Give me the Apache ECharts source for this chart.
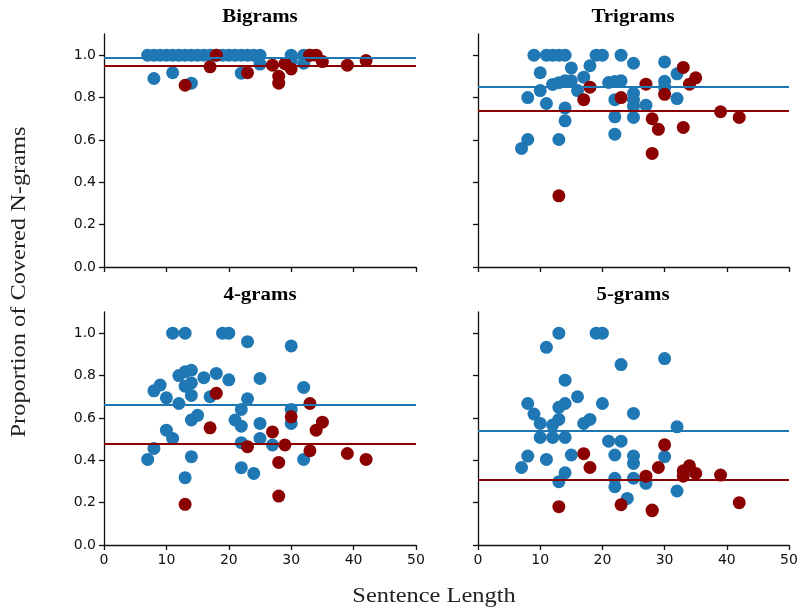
<!DOCTYPE html>
<html>
<head>
<meta charset="utf-8">
<script src="https://cdn.jsdelivr.net/npm/echarts@6/dist/echarts.min.js"></script>
<style>
  html, body { margin: 0; padding: 0; background: #fff; }
  #chart { width: 801px; height: 610px; }
</style>
</head>
<body>
<div id="chart"></div>
<script>
// panel titles
const panelTitles = ["Bigrams", "Trigrams", "4-grams", "5-grams"];
const xTicks = [0, 10, 20, 30, 40, 50];
const yTicks = [0, 0.2, 0.4, 0.6, 0.8, 1.0];

// sentence lengths of the red group (same sentences in every panel)
const redLen = [13, 17, 18, 23, 27, 28, 28, 29, 30, 33, 33, 34, 35, 39, 42];
const redBigram = [0.858, 0.945, 1.0, 0.917, 0.953, 0.9, 0.868, 0.96, 0.935, 1.0, 1.0, 1.0, 0.97, 0.953, 0.975];
const redTrigram = [0.336, 0.79, 0.849, 0.8, 0.863, 0.7, 0.536, 0.65, 0.815, 0.942, 0.659, 0.863, 0.893, 0.733, 0.706];
const red4gram = [0.192, 0.553, 0.716, 0.464, 0.534, 0.39, 0.231, 0.472, 0.605, 0.668, 0.445, 0.542, 0.58, 0.432, 0.404];
const red5gram = [0.181, 0.431, 0.366, 0.19, 0.325, 0.162, 0.165, 0.366, 0.473, 0.35, 0.325, 0.374, 0.338, 0.33, 0.2];

// blue group: [length, proportion]
const blueBigram = [
  [7, 1], [8, 1], [9, 1], [10, 1], [11, 1], [12, 1], [13, 1], [14, 1], [15, 1], [16, 1],
  [17, 1], [18, 1], [19, 1], [20, 1], [21, 1], [22, 1], [23, 1], [24, 1], [25, 1],
  [30, 1], [32, 1], [8, 0.89], [11, 0.917], [14, 0.868], [22, 0.915], [25, 0.958],
  [32, 0.962], [30, 0.972]
];
const blueTrigram = [
  [9, 1], [11, 1], [12, 1], [13, 1], [14, 1], [19, 1], [20, 1], [23, 1], [25, 0.962],
  [30, 0.968], [15, 0.94], [18, 0.95], [10, 0.917], [32, 0.912], [17, 0.896], [12, 0.862],
  [13, 0.87], [14, 0.879], [15, 0.879], [10, 0.833], [16, 0.833], [8, 0.8], [11, 0.772],
  [14, 0.751], [14, 0.69], [8, 0.602], [7, 0.56], [13, 0.602], [21, 0.871], [22, 0.876],
  [23, 0.879], [22, 0.79], [25, 0.82], [25, 0.788], [25, 0.759], [25, 0.706], [27, 0.764],
  [22, 0.709], [22, 0.627], [30, 0.877], [30, 0.848], [32, 0.795]
];
const blue4gram = [
  [11, 1], [13, 1], [19, 1], [20, 1], [23, 0.96], [30, 0.94], [9, 0.755], [8, 0.728],
  [12, 0.8], [13, 0.818], [14, 0.825], [16, 0.79], [18, 0.81], [20, 0.78], [25, 0.786],
  [32, 0.744], [13, 0.75], [14, 0.765], [10, 0.695], [14, 0.706], [12, 0.668], [17, 0.7],
  [23, 0.69], [22, 0.64], [30, 0.64], [30, 0.574], [14, 0.59], [15, 0.612], [21, 0.59],
  [22, 0.561], [25, 0.574], [10, 0.542], [11, 0.503], [8, 0.456], [7, 0.404], [14, 0.417],
  [13, 0.318], [22, 0.483], [25, 0.503], [27, 0.472], [22, 0.365], [24, 0.338], [32, 0.404]
];
const blue5gram = [
  [13, 1], [19, 1], [20, 1], [11, 0.933], [30, 0.88], [23, 0.852], [14, 0.778], [16, 0.7],
  [8, 0.668], [13, 0.65], [14, 0.668], [20, 0.668], [9, 0.618], [25, 0.621], [10, 0.574],
  [12, 0.566], [13, 0.593], [17, 0.574], [18, 0.593], [32, 0.558], [10, 0.508], [12, 0.508],
  [14, 0.508], [21, 0.49], [23, 0.49], [22, 0.425], [8, 0.42], [11, 0.404], [15, 0.425],
  [7, 0.366], [25, 0.42], [25, 0.385], [30, 0.417], [14, 0.341], [13, 0.299], [22, 0.315],
  [22, 0.275], [25, 0.315], [27, 0.291], [24, 0.22], [32, 0.255]
];

// mean lines per panel
const blueMean = [0.986, 0.855, 0.66, 0.537];
const redMean = [0.952, 0.745, 0.485, 0.306];

const BLUE = "#1f77b4";
const RED = "#8b0000";

const blueSets = [blueBigram, blueTrigram, blue4gram, blue5gram];
const redSets = [redBigram, redTrigram, red4gram, red5gram];

const grids = [
  { left: 104, top: 34, width: 312, height: 233 },
  { left: 478, top: 34, width: 311, height: 233 },
  { left: 104, top: 312, width: 312, height: 233 },
  { left: 478, top: 312, width: 311, height: 233 },
];

const axisLine = { lineStyle: { color: "#111", width: 1.3 } };
const axisTick = { length: 5, lineStyle: { color: "#111", width: 1.3 } };
const labelFont = { fontFamily: "DejaVu Sans", fontSize: 14, color: "#111" };

const xAxes = grids.map((g, i) => ({
  type: "value",
  gridIndex: i,
  min: 0,
  max: 50,
  interval: 10,
  splitLine: { show: false },
  axisLine: axisLine,
  axisTick: axisTick,
  axisLabel: Object.assign({ show: i >= 2, margin: 8 }, labelFont),
}));

const yAxes = grids.map((g, i) => ({
  type: "value",
  gridIndex: i,
  min: 0,
  max: 1.1,
  splitLine: { show: false },
  axisLine: axisLine,
  axisTick: Object.assign({ customValues: yTicks }, axisTick),
  axisLabel: Object.assign(
    { show: i % 2 === 0, margin: 8, customValues: yTicks, formatter: (v) => v.toFixed(1) },
    labelFont
  ),
}));

const series = [];
for (let i = 0; i < 4; i++) {
  series.push({
    type: "scatter",
    xAxisIndex: i,
    yAxisIndex: i,
    symbolSize: 13,
    itemStyle: { color: BLUE, opacity: 1 },
    data: blueSets[i],
    markLine: {
      silent: true,
      symbol: "none",
      label: { show: false },
      lineStyle: { color: BLUE, width: 2.2, type: "solid" },
      data: [{ yAxis: blueMean[i] }],
    },
  });
  series.push({
    type: "scatter",
    xAxisIndex: i,
    yAxisIndex: i,
    symbolSize: 13,
    itemStyle: { color: RED, opacity: 1 },
    data: redLen.map((len, k) => [len, redSets[i][k]]),
    markLine: {
      silent: true,
      symbol: "none",
      label: { show: false },
      lineStyle: { color: RED, width: 2.2, type: "solid" },
      data: [{ yAxis: redMean[i] }],
    },
  });
}

const titlePos = [[260, 17], [633, 17], [260, 295], [633, 295]];
const graphics = panelTitles.map((t, i) => ({
  type: "text",
  x: titlePos[i][0],
  y: titlePos[i][1],
  scaleX: 1.1,
  style: {
    text: t,
    font: "bold 19px 'Liberation Serif'",
    fill: "#000",
    textAlign: "center",
    textVerticalAlign: "middle",
  },
}));
graphics.push({
  type: "text",
  x: 434,
  y: 597,
  scaleX: 1.22,
  style: {
    text: "Sentence Length",
    font: "20px 'Liberation Serif'",
    fill: "#222",
    textAlign: "center",
    textVerticalAlign: "middle",
  },
});
graphics.push({
  type: "text",
  x: 20,
  y: 282,
  rotation: Math.PI / 2,
  scaleX: 1.22,
  style: {
    text: "Proportion of Covered N-grams",
    font: "20px 'Liberation Serif'",
    fill: "#222",
    textAlign: "center",
    textVerticalAlign: "middle",
  },
});

const chart = echarts.init(document.getElementById("chart"), null, { renderer: "canvas" });
chart.setOption({
  animation: false,
  backgroundColor: "#fff",
  grid: grids,
  xAxis: xAxes,
  yAxis: yAxes,
  series: series,
  graphic: graphics,
});
</script>
</body>
</html>
